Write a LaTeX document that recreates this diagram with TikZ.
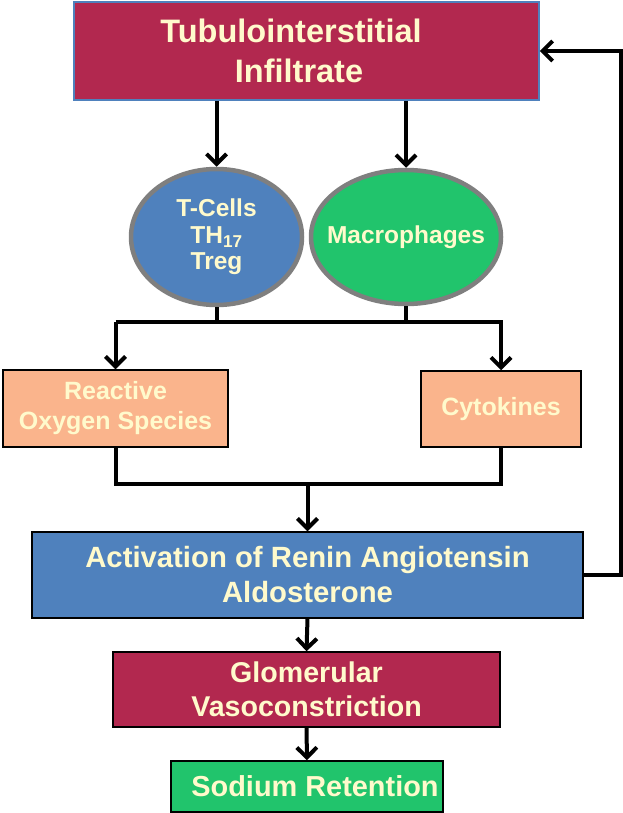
\documentclass[tikz,border=0pt]{standalone}
\usepackage{fontspec}
\setmainfont{Liberation Sans}
\usetikzlibrary{arrows.meta,shapes.geometric}
\definecolor{crimson}{HTML}{B2284F}
\definecolor{raasblue}{HTML}{4F81BD}
\definecolor{cellgreen}{HTML}{21C46C}
\definecolor{peach}{HTML}{FAB48C}
\definecolor{cream}{HTML}{FFFACC}
\definecolor{rimgray}{HTML}{7F7F7F}
\tikzset{
  box/.style={rectangle, draw=black, line width=1.5pt, inner sep=0pt,
    text=cream, align=center, font=\bfseries},
  cell/.style={ellipse, draw=rimgray, line width=4.5pt, inner xsep=-14pt, inner ysep=0pt,
    text=cream, align=center, font=\bfseries\fontsize{24.5}{26.5}\selectfont},
  link/.style={line width=4pt, line join=miter},
  arr/.style={link, -{Straight Barb[length=10pt,width=20pt,line width=4pt]}},
}
\begin{document}
\begin{tikzpicture}[x=1pt,y=-1pt]
\useasboundingbox (0,0) rectangle (623,813);
% boxes and cells
\node[box, draw=raasblue, fill=crimson, minimum width=465, minimum height=98,
  font=\bfseries\fontsize{32.5}{40}\selectfont] (infil) at (306.5,51)
  {Tubulointerstitial\hspace*{31pt}\\Infiltrate\hspace*{15pt}};
\node[cell, fill=raasblue, minimum width=171, minimum height=136] (tcell) at (216.5,237) {T-Cells\\TH\textsubscript{17}\\Treg};
\node[cell, fill=cellgreen, minimum width=190, minimum height=134] (macro) at (406,237) {Macrophages};
\node[box, fill=peach, minimum width=225, minimum height=77,
  font=\bfseries\fontsize{25}{30}\selectfont] (ros) at (115.5,408.5) {Reactive\\Oxygen Species};
\node[box, fill=peach, minimum width=160, minimum height=76,
  font=\bfseries\fontsize{25}{30}\selectfont] (cyto) at (501,409) {Cytokines};
\node[box, fill=raasblue, minimum width=551, minimum height=86,
  font=\bfseries\fontsize{29.3}{35}\selectfont] (raas) at (307.5,575) {Activation of Renin Angiotensin\\Aldosterone};
\node[box, fill=crimson, minimum width=387, minimum height=75,
  font=\bfseries\fontsize{28.6}{34}\selectfont] (glom) at (306.5,689.5) {Glomerular\\Vasoconstriction};
\node[box, fill=cellgreen, minimum width=272, minimum height=51,
  font=\bfseries\fontsize{28.9}{34}\selectfont] (sodium) at (307,786.5) {\hspace*{16pt}Sodium Retention};
\coordinate (split) at (0,322);
\coordinate (merge) at (0,484);
% connectors
\draw[arr] (tcell.north |- infil.south) -- (tcell.north);
\draw[arr] (macro.north |- infil.south) -- (macro.north);
\draw[link] (tcell.south) -- (tcell.south |- split);
\draw[link] (macro.south) -- (macro.south |- split);
\draw[arr] (ros.north |- split) -- (cyto.north |- split) -- (cyto.north);
\draw[arr] (ros.north |- split) -- (ros.north);
\draw[link] (ros.south) -- (ros.south |- merge) -- (cyto.south |- merge) -- (cyto.south);
\draw[arr] (raas.north |- merge) -- (raas.north);
\draw[arr] (raas.south) -- (glom.north);
\draw[arr] (glom.south) -- (sodium.north);
\draw[arr] (raas.east) -- ++(37,0) |- (infil.east);
\end{tikzpicture}
\end{document}
